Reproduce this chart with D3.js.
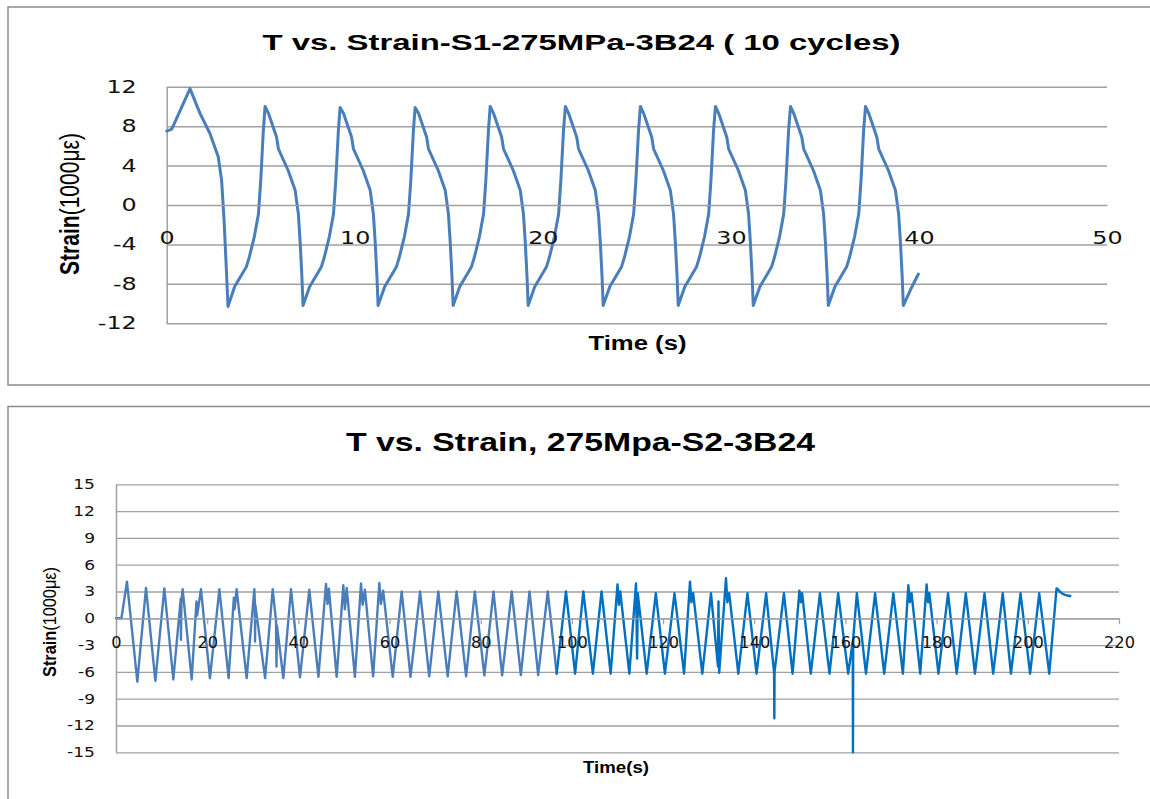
<!DOCTYPE html>
<html>
<head>
<meta charset="utf-8">
<script src="https://cdn.jsdelivr.net/npm/d3@7"></script>
<style>
  body { margin: 0; background: #fff; }
  svg { display: block; }
</style>
</head>
<body>
<script>
// ---- top chart: S1, 10 cycles ----
var title1 = 'T vs. Strain-S1-275MPa-3B24 ( 10 cycles)';
var ticksX1 = [0, 10, 20, 30, 40, 50];
var ticksY1 = [-12, -8, -4, 0, 4, 8, 12];
// [time s, strain 1000με]
var strain1 = [
  [0, 7.5], [0.27, 7.7], [1.24, 11.8], [1.77, 9.3], [2.3, 7.25], [2.74, 4.9], [2.92, 2.5], [3.05, -1.5], [3.19, -7.3],
  [3.26, -10.3], [3.61, -8.3], [4.23, -6.3], [4.39, -5.3], [4.66, -3.2], [4.88, -0.9], [5.0, 2.5], [5.14, 7.6], [5.23, 10.0],
  [5.41, 9.3], [5.84, 6.9], [5.94, 5.7], [6.46, 3.5], [6.83, 1.5], [7.0, -0.9], [7.1, -3.9], [7.19, -7.3],
  [7.25, -10.2], [7.6, -8.3], [8.22, -6.3], [8.38, -5.3], [8.65, -3.2], [8.87, -0.9], [8.99, 2.5], [9.13, 7.6], [9.22, 9.9],
  [9.4, 9.3], [9.83, 6.9], [9.93, 5.7], [10.45, 3.5], [10.82, 1.5], [10.99, -0.9], [11.09, -3.9], [11.18, -7.3],
  [11.24, -10.2], [11.59, -8.3], [12.21, -6.3], [12.37, -5.3], [12.64, -3.2], [12.86, -0.9], [12.98, 2.5], [13.12, 7.6], [13.21, 9.9],
  [13.39, 9.3], [13.82, 6.9], [13.92, 5.7], [14.44, 3.5], [14.81, 1.5], [14.98, -0.9], [15.08, -3.9], [15.17, -7.3],
  [15.23, -10.2], [15.58, -8.3], [16.2, -6.3], [16.36, -5.3], [16.63, -3.2], [16.85, -0.9], [16.97, 2.5], [17.11, 7.6], [17.2, 10.0],
  [17.38, 9.3], [17.81, 6.9], [17.91, 5.7], [18.43, 3.5], [18.8, 1.5], [18.97, -0.9], [19.07, -3.9], [19.16, -7.3],
  [19.22, -10.2], [19.57, -8.3], [20.19, -6.3], [20.35, -5.3], [20.62, -3.2], [20.84, -0.9], [20.96, 2.5], [21.1, 7.6], [21.2, 10.0],
  [21.37, 9.3], [21.8, 6.9], [21.9, 5.7], [22.42, 3.5], [22.79, 1.5], [22.96, -0.9], [23.06, -3.9], [23.15, -7.3],
  [23.21, -10.2], [23.56, -8.3], [24.18, -6.3], [24.34, -5.3], [24.61, -3.2], [24.83, -0.9], [24.95, 2.5], [25.09, 7.6], [25.19, 10.0],
  [25.36, 9.3], [25.79, 6.9], [25.89, 5.7], [26.41, 3.5], [26.78, 1.5], [26.95, -0.9], [27.05, -3.9], [27.14, -7.3],
  [27.2, -10.2], [27.55, -8.3], [28.17, -6.3], [28.33, -5.3], [28.6, -3.2], [28.82, -0.9], [28.94, 2.5], [29.08, 7.6], [29.18, 10.0],
  [29.35, 9.3], [29.78, 6.9], [29.88, 5.7], [30.4, 3.5], [30.77, 1.5], [30.94, -0.9], [31.04, -3.9], [31.13, -7.3],
  [31.19, -10.2], [31.54, -8.3], [32.16, -6.3], [32.32, -5.3], [32.59, -3.2], [32.81, -0.9], [32.93, 2.5], [33.07, 7.6], [33.17, 10.0],
  [33.34, 9.3], [33.77, 6.9], [33.87, 5.7], [34.39, 3.5], [34.76, 1.5], [34.93, -0.9], [35.03, -3.9], [35.12, -7.3],
  [35.18, -10.2], [35.53, -8.3], [36.15, -6.3], [36.31, -5.3], [36.58, -3.2], [36.8, -0.9], [36.92, 2.5], [37.06, 7.6], [37.16, 10.0],
  [37.33, 9.3], [37.76, 6.9], [37.86, 5.7], [38.38, 3.5], [38.75, 1.5], [38.92, -0.9], [39.02, -3.9], [39.11, -7.3],
  [39.17, -10.2], [39.55, -8.6], [39.97, -7.0]
];

// ---- bottom chart: S2 ----
var title2 = 'T vs. Strain, 275Mpa-S2-3B24';
var ticksX2 = [0, 20, 40, 60, 80, 100, 120, 140, 160, 180, 200, 220];
var ticksY2 = [-15, -12, -9, -6, -3, 0, 3, 6, 9, 12, 15];
// first part of the record (older blue)
var strain2a = [
  [0, 0], [1.2, 0], [2.4, 4.1], [4.68, -7.1], [6.58, 3.4], [8.63, -7.0], [10.6, 3.35], [12.57, -6.85],
  [14.2, 2.2], [14.25, -2.4], [14.35, 2.0], [14.62, 3.25], [16.6, -6.85], [17.65, 1.9], [17.8, 0.3], [18.64, 3.25],
  [20.6, -6.7], [22.67, 3.25], [24.7, -6.7], [25.85, 2.3], [26.0, 1.0], [26.46, 3.25], [28.66, -6.7], [30.34, 3.25],
  [30.45, 1.9], [30.5, -2.6], [30.56, 1.5], [32.7, -6.7], [34.37, 3.25], [35.1, -0.3], [35.2, -5.4], [35.3, -0.8],
  [36.7, -6.7], [38.39, 3.25], [40.36, -6.6], [42.4, 3.2], [44.4, -6.55], [46.06, 3.85], [46.4, 1.6], [46.7, 3.3],
  [48.4, -6.55], [49.86, 3.7], [50.2, 1.0], [50.6, 3.4], [52.4, -6.55], [53.74, 3.9], [54.1, 1.5], [54.6, 3.2],
  [56.4, -6.5], [57.76, 3.95], [58.1, 1.6], [58.6, 3.1], [60.7, -6.55], [62.66, 3.0], [64.6, -6.55], [66.7, 3.0],
  [68.7, -6.5], [70.7, 3.0], [72.75, -6.5], [74.7, 3.0], [76.8, -6.5], [78.7, 3.0], [80.8, -6.4], [82.8, 3.0],
  [84.7, -6.4], [86.8, 3.0], [88.8, -6.35], [90.7, 3.0], [92.6, -6.35], [94.7, 3.0], [96.66, -6.2]
];
// second part (brighter blue)
var strain2b = [
  [96.66, -6.2], [98.7, 3.0], [100.7, -6.2], [102.5, 3.0], [104.6, -6.2], [106.5, 3.0], [108.5, -6.2],
  [110.0, 3.8], [110.3, 1.5], [110.6, 3.0], [112.6, -6.2], [114.06, 3.9], [114.3, -4.5], [114.45, 2.8],
  [116.4, -6.2], [118.4, 2.8], [120.4, -6.2], [122.5, 2.8], [124.6, -6.2], [125.9, 4.1], [126.2, 1.8], [126.6, 2.8],
  [128.6, -6.2], [130.5, 2.8], [132.05, -5.4], [132.15, 1.9], [132.3, -6.1], [133.8, 4.5], [134.1, 1.8], [134.5, 2.8],
  [136.5, -6.2], [138.5, 2.8], [140.5, -6.2], [142.6, 2.8], [144.35, -6.1], [144.4, -11.2], [144.45, -6.0],
  [146.5, 2.8], [148.4, -6.2], [149.9, 3.1], [150.2, 1.8], [150.5, 2.8], [152.4, -6.2], [154.4, 2.8], [156.5, -6.2],
  [158.4, 2.8], [160.6, -6.2], [161.6, -2.6], [161.65, -15], [161.7, -2.3], [162.5, 2.8], [164.5, -6.2],
  [166.5, 2.8], [168.5, -6.2], [170.5, 2.8], [172.6, -6.2], [173.8, 3.7], [174.1, 1.8], [174.5, 2.8], [176.4, -6.2],
  [177.8, 3.8], [178.1, 1.8], [178.4, 2.8], [180.4, -6.2], [182.5, 2.8], [184.4, -6.2], [186.4, 2.8], [188.4, -6.2],
  [190.5, 2.8], [192.4, -6.2], [194.5, 2.8], [196.3, -6.2], [198.4, 2.8], [200.5, -6.2], [202.5, 2.8], [204.7, -6.2],
  [206.3, 3.35], [206.6, 3.25], [207.0, 3.0], [207.6, 2.75], [208.3, 2.6], [209.3, 2.5]
];

var svg = d3.select('body').append('svg').attr('width', 1150).attr('height', 799);
var SANS = 'Liberation Sans, Arial, sans-serif', TICKFONT = 'DejaVu Sans, Verdana, sans-serif', GRID = '#a0a0a0';

// plain hyphen for negatives, like the original
function plain(d) { return String(d); }

// the source image is stretched sideways, so text gets stretched too
function stretch(sel, k) {
  sel.each(function () {
    var n = this.getComputedTextLength();
    d3.select(this).attr('textLength', n * k).attr('lengthAdjust', 'spacingAndGlyphs');
  });
}
function fit(sel, w) {
  sel.attr('textLength', w).attr('lengthAdjust', 'spacingAndGlyphs');
}

function chart(o) {
  var g = svg.append('g');
  g.append('rect').attr('x', o.box[0]).attr('y', o.box[1]).attr('width', o.box[2]).attr('height', o.box[3])
    .attr('fill', '#fff').attr('stroke', '#8c8c8c').attr('stroke-width', 1.5);

  var x = d3.scaleLinear().domain(o.xDom).range(o.xRange),
    y = d3.scaleLinear().domain(o.yDom).range(o.yRange),
    w = o.xRange[1] - o.xRange[0];

  // gridlines + y labels
  var ya = g.append('g').attr('transform', 'translate(' + o.xRange[0] + ',0)')
    .call(d3.axisLeft(y).tickValues(o.yTicks).tickFormat(plain).tickSize(-w).tickSizeOuter(0).tickPadding(o.yPad));
  ya.select('.domain').attr('stroke', GRID).attr('stroke-width', 1.5);
  ya.selectAll('.tick line').attr('stroke', GRID).attr('stroke-width', o.grid);
  ya.selectAll('text').attr('font-family', TICKFONT).attr('font-size', o.yFont).attr('fill', '#111')
    .call(stretch, o.yStretch);

  // data
  var line = d3.line().x(function (d) { return x(d[0]); }).y(function (d) { return y(d[1]); });
  o.series.forEach(function (s) {
    g.append('path').datum(s.data).attr('d', line).attr('fill', 'none')
      .attr('stroke', s.color).attr('stroke-width', s.width)
      .attr('stroke-linejoin', 'round').attr('stroke-linecap', 'round');
  });

  // x axis crosses at zero
  var xa = g.append('g').attr('transform', 'translate(0,' + y(0) + ')')
    .call(d3.axisBottom(x).tickValues(o.xTicks).tickFormat(plain).tickSize(o.xTick).tickSizeOuter(0).tickPadding(o.xPad));
  xa.select('.domain').attr('stroke', GRID).attr('stroke-width', 1.2);
  xa.selectAll('.tick line').attr('stroke', GRID).attr('stroke-width', 1.2);
  xa.selectAll('text').attr('font-family', TICKFONT).attr('font-size', o.xFont).attr('fill', '#111')
    .call(stretch, o.xStretch);

  // titles
  g.append('text').attr('x', o.title.x).attr('y', o.title.y).attr('text-anchor', 'middle')
    .attr('font-family', SANS).attr('font-weight', 'bold').attr('font-size', o.title.size)
    .text(o.title.text).call(fit, o.title.len);

  g.append('text').attr('x', o.xTitle.x).attr('y', o.xTitle.y).attr('text-anchor', 'middle')
    .attr('font-family', SANS).attr('font-weight', 'bold').attr('font-size', o.xTitle.size)
    .text(o.xTitle.text).call(fit, o.xTitle.len);

  var yt = g.append('text')
    .attr('transform', 'translate(' + o.yTitle.x + ',' + o.yTitle.y + ') scale(1.35,1) rotate(-90)')
    .attr('text-anchor', 'middle').attr('dy', '0.35em')
    .attr('font-family', SANS).attr('font-size', o.yTitle.size);
  yt.append('tspan').attr('font-weight', 'bold').text('Strain');
  yt.append('tspan').text('(1000με)');
  fit(yt, o.yTitle.len);
}

chart({
  box: [8, 7, 1160, 378],
  xDom: [0, 50], xRange: [166.7, 1107],
  yDom: [-12, 12], yRange: [323.3, 86.7],
  xTicks: ticksX1, yTicks: ticksY1,
  grid: 1.5, yPad: 30, yFont: 17, yStretch: 1.4,
  xTick: 0, xPad: 26.5, xFont: 17, xStretch: 1.4,
  series: [{ data: strain1, color: '#4a7ebb', width: 3 }],
  title: { text: title1, x: 581.5, y: 50, size: 22, len: 638 },
  xTitle: { text: 'Time (s)', x: 637.5, y: 350, size: 20, len: 98 },
  yTitle: { x: 70, y: 204, size: 20, len: 142 }
});

chart({
  box: [8, 406.5, 1160, 420],
  xDom: [0, 220], xRange: [116, 1119],
  yDom: [-15, 15], yRange: [752.3, 484.3],
  xTicks: ticksX2, yTicks: ticksY2,
  grid: 1.3, yPad: 21, yFont: 14, yStretch: 1.22,
  xTick: 6, xPad: 13.3, xFont: 15, xStretch: 1.08,
  series: [
    { data: strain2a, color: '#4a7ebb', width: 2.4 },
    { data: strain2b, color: '#0070c0', width: 2.4 }
  ],
  title: { text: title2, x: 580.5, y: 451, size: 26, len: 469 },
  xTitle: { text: 'Time(s)', x: 616, y: 773, size: 17, len: 66 },
  yTitle: { x: 49, y: 622, size: 14, len: 110 }
});
</script>
</body>
</html>
